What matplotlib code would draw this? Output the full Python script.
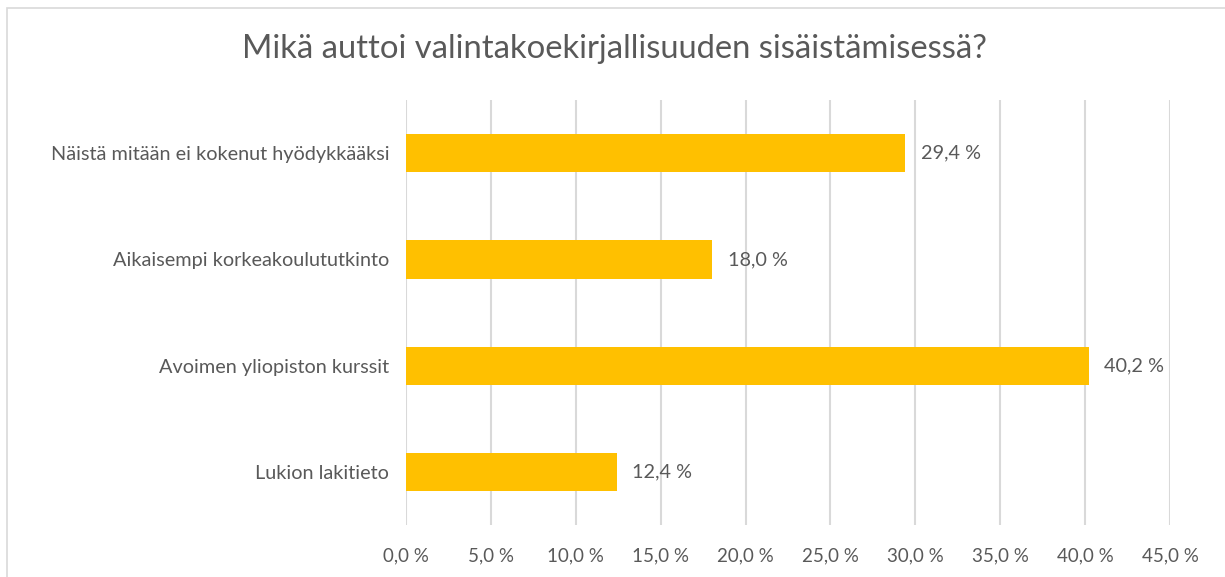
import matplotlib.pyplot as plt
from matplotlib.patches import Rectangle

# Tiedot (alhaalta ylös)
categories = ["Lukion lakitieto", "Avoimen yliopiston kurssit",
              "Aikaisempi korkeakoulututkinto", "Näistä mitään ei kokenut hyödykkääksi"]
values = [12.4, 40.2, 18.0, 29.4]
ticks = [0, 5, 10, 15, 20, 25, 30, 35, 40, 45]

plt.rcParams['font.family'] = ['Lato', 'DejaVu Sans']
text_color = "#595959"

fig = plt.figure(figsize=(12.25, 5.77), dpi=100)
# kehys kuvan ympärillä
fig.patches.append(Rectangle((7/1225, -0.1), 1.2, 1 - 7.5/577 + 0.1, transform=fig.transFigure,
                             fill=False, edgecolor="#D9D9D9", linewidth=1.2))

ax = fig.add_axes([406/1225, 1 - 525/577, 764/1225, 425/577])
ax.barh(range(len(values)), values, height=0.36, color="#FFC000", zorder=3)

for i, v in enumerate(values):
    ax.annotate(f"{v:.1f} %".replace(".", ","), (v, i), xytext=(11.5, 0),
                textcoords="offset points", va="center", ha="left",
                fontsize=14.3, color=text_color)

ax.set_xlim(0, 45)
ax.set_ylim(-0.5, 3.5)
ax.set_xticks(ticks)
ax.set_xticklabels([f"{t:.1f} %".replace(".", ",") for t in ticks], fontsize=13.5, color=text_color)
ax.set_yticks(range(len(categories)))
ax.set_yticklabels(categories, fontsize=14.3, color=text_color)
ax.tick_params(axis="both", length=0)
ax.tick_params(axis="x", pad=16)
ax.tick_params(axis="y", pad=12)
ax.grid(axis="x", color="#D9D9D9", linewidth=1.5, zorder=0)
for s in ax.spines.values():
    s.set_visible(False)

fig.text(615/1225, 1 - 49/577, "Mikä auttoi valintakoekirjallisuuden sisäistämisessä?",
         ha="center", va="center", fontsize=23.6, color=text_color)

fig.savefig("out.png", dpi=100)
